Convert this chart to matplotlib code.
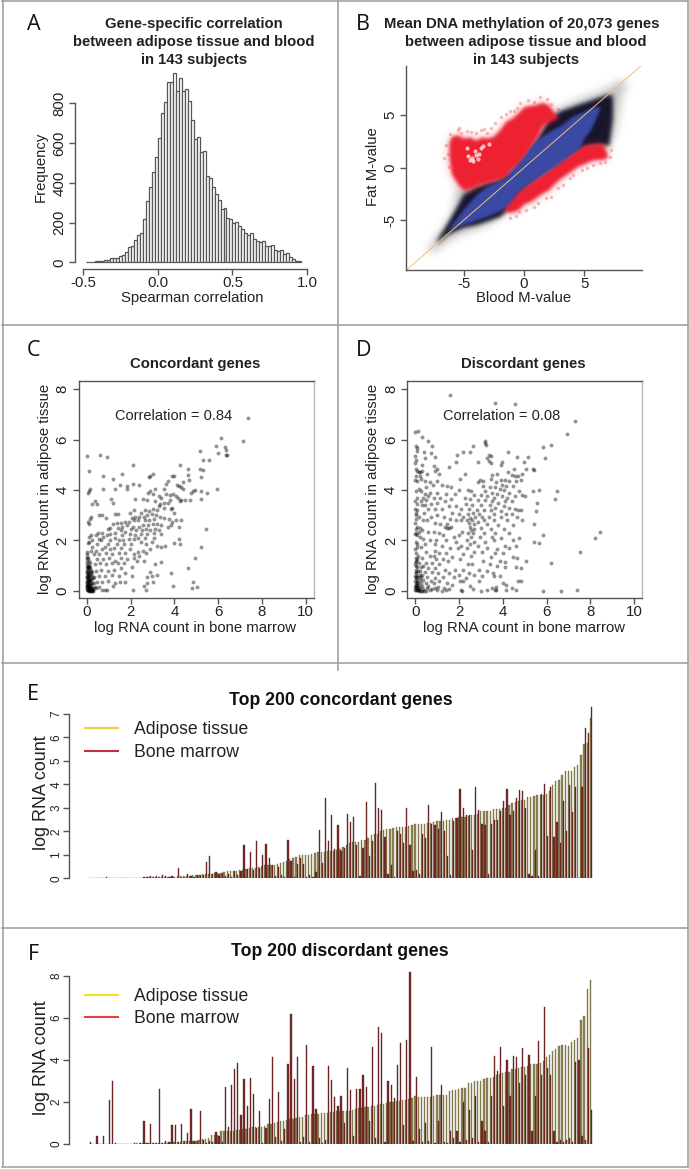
import numpy as np
import matplotlib
matplotlib.use("Agg")
import matplotlib.pyplot as plt
from matplotlib.colors import to_rgb
from matplotlib.lines import Line2D

plt.rcParams['font.family'] = ['Liberation Sans', 'DejaVu Sans']
plt.rcParams['axes.unicode_minus'] = False

W, H = 689, 1169

# panel A: histogram of gene-wise correlations, bins of 0.02 from -0.48
hist_start = -0.48
hist_width = 0.02
hist_counts = [2, 3, 4, 6, 6, 8, 10, 10, 20, 20, 20, 32, 36, 50, 75, 80, 110, 140, 150, 220,
               310, 380, 455, 530, 625, 750, 805, 905, 905, 950, 860, 925, 860, 870, 810, 715,
               620, 630, 555, 560, 435, 425, 380, 345, 315, 270, 275, 225, 220, 200, 205, 185,
               170, 150, 140, 150, 115, 105, 100, 105, 80, 80, 85, 60, 55, 62, 40, 45, 28, 18, 8, 5]

# panel B: outlines of the dense clouds
halo_x = [-8, -7.5, -7, -6, -5.5, -5, -4, -3, -2, -1, 0, 1, 2, 3, 4, 5, 6, 7, 7.5, 8, 8.5]
halo_lo = [-8.1, -7.9, -7.5, -6.6, -6.4, -6.1, -5.8, -5.3, -4.6, -3, -2, -1, 0, 0.8, 1.2, 1.5, 1.6, 2, 3.5, 7, 8]
halo_hi = [-7.8, -6.9, -6.2, -4.6, -1.9, -1.6, -1.2, -1.2, -1, 0, 1, 2.5, 4.8, 5.7, 6.2, 6.7, 7.1, 7.6, 8, 8.3, 8.3]
core_x = [-7.2, -7, -6.5, -6, -5.5, -5, -4, -3, -2, -1, 0, 1, 2, 3, 4, 5, 6, 7, 7.3]
core_lo = [-7.1, -6.9, -6.4, -6.1, -5.85, -5.6, -5.4, -5, -4.6, -3.5, -2, -1, 0, 0.8, 1.4, 2, 2.2, 2.2, 4.8]
core_hi = [-7.0, -6.5, -5.6, -4.6, -3.6, -2.5, -1.8, -1.4, -1.1, -0.3, 1, 2.6, 4.6, 5.4, 5.8, 6.2, 6.6, 7.0, 6.8]
red_up_x = [-6.2, -6, -5.5, -5, -4.5, -4, -3.5, -3, -2.5, -2, -1.5, -1, -0.5, 0, 0.5, 1, 1.5, 2, 2.5, 2.8]
red_up_hi = [2.4, 3, 3.1, 2.8, 2.9, 2.6, 2.9, 2.8, 3.0, 3.6, 4.4, 4.7, 5.2, 5.8, 5.9, 6, 6.2, 6, 5.2, 4.7]
red_up_lo = [1, -0.6, -1.5, -2.1, -2, -1.7, -1.5, -1.4, -1.2, -1.1, -0.8, -0.1, 0.3, 1, 1.9, 2.8, 4, 4.4, 4.6, 4.7]
red_dn_x = [-1.7, -1.4, -1, -0.5, 0, 0.5, 1, 1.5, 2, 2.5, 3, 3.5, 4, 4.5, 5, 5.5, 6, 6.5, 6.9]
red_dn_hi = [-3.4, -3.2, -2.9, -2.2, -1.8, -1.4, -1, -0.6, -0.2, 0.3, 0.7, 1.1, 1.4, 1.8, 2.1, 2.2, 2.3, 2.3, 1.2]
red_dn_lo = [-3.7, -4.2, -4.2, -4, -3.4, -3.2, -2.8, -2.4, -2.1, -1.5, -1, -0.6, -0.2, 0.2, 0.4, 0.7, 0.8, 0.8, 1]
blue_x = [-6.3, -6, -5, -4, -3, -2, -1.4, -1, -0.5, 0, 0.5, 1, 2, 3, 4, 4.6, 5, 5.5, 6, 6.3]
blue_hi = [-5.9, -5.4, -3.9, -2.6, -1.7, -1.2, -0.85, -0.2, 0.4, 1.1, 1.9, 2.6, 3.4, 4, 4.9, 5.2, 5.4, 5.7, 5.8, 5.8]
blue_lo = [-6, -5.8, -5.4, -5, -4.6, -4.1, -3.6, -3, -2.3, -1.8, -1.4, -1, -0.3, 0.5, 1.4, 1.9, 2.9, 3.6, 4.8, 5.7]
# loose red points along the edge of the clouds, and the gap inside the upper one
red_loose = [(-6.5, 2.2), (-6.3, 1.3), (-6.6, 0.9), (-6.2, 0.1), (-6.1, 3.2), (-5.5, 3.6), (-5.2, 3.3), (-4.7, 3.5),
             (-4.4, 3.4), (-4, 3.3), (-3.6, 3.6), (-3.1, 3.3), (-2.7, 3.8), (-2.4, 4.3), (-1.9, 4.8), (-1.5, 5.1),
             (-1.2, 5.4), (-0.6, 5.7), (-0.3, 6.2), (0.3, 6.4), (0.8, 6.3), (1.3, 6.7), (1.9, 6.5), (2.2, 6.1),
             (2.8, 5.6), (-1.7, -4.2), (-1.2, -4.8), (-0.7, -4.6), (-0.4, -4.2), (0.2, -4), (0.8, -3.7), (1.2, -3.4),
             (1.8, -2.9), (2.2, -2.8), (2.8, -1.9), (3.2, -1.6), (3.8, -1), (4.1, -0.7), (4.8, -0.2), (5.2, 0),
             (5.7, 0.3), (6.3, 0.4), (6.7, 0.5), (7.1, 1), (7.2, 1.7), (-0.8, 5.4), (-3.3, 3.7), (-5.4, 3.8)]
gap_points = [(-4.6, 1.1), (-4.3, 0.9), (-4, 1.2), (-4.2, 0.6), (-3.8, 0.8), (-4.5, 0.7), (-3.7, 1.3), (-4.1, 1.6),
              (-3.4, 2.1), (-2.9, 2.3), (-3.6, 1.9), (-4.7, 1.9)]

# panels C and D: (bone marrow, adipose) log counts
conc_points = [
    (7.35, 6.85), (7.15, 5.95), (6.15, 6.05), (5.9, 5.75), (6.3, 5.7), (6.35, 5.6), (6, 5.45), (6.35, 5.4), (6.4, 5.4),
    (5.15, 5.55), (5.3, 5.2), (5.6, 5.2), (5.15, 4.85), (5.3, 4.8), (4.25, 5), (4.6, 4.85), (2.1, 5), (0, 5.35),
    (0.6, 5.4), (0.9, 5.3), (0.1, 4.75), (0.75, 4.55), (1.2, 4.45), (1.6, 4.65), (3, 4.65), (2.9, 4.55), (2.85, 4.5),
    (2.1, 4.25), (2.4, 4.2), (1.5, 4.2), (1.85, 4.15), (1.85, 4.05), (1.3, 4.05), (0.75, 4.05), (0.15, 4.05), (0.05, 3.9),
    (0.1, 3.95), (3.9, 4.55), (4, 4.55), (3.7, 4.35), (3.6, 4.25), (4.1, 4.2), (4.2, 4.15), (4.3, 4.1), (4.4, 4.3),
    (4.65, 4.4), (4.6, 4.6), (5.2, 4.5), (4.4, 4.05), (4.75, 3.9), (4.85, 3.95), (4.95, 4), (5.2, 3.95), (5.5, 3.9),
    (5.95, 4.05), (3.5, 4.05), (3.1, 4.05), (2.9, 3.95), (2.8, 3.9), (3, 3.85), (3.3, 3.75), (3.4, 3.7), (3.6, 3.85),
    (3.8, 3.8), (3.95, 3.85), (4.05, 3.75), (4.15, 3.7), (4.3, 3.6), (4.5, 3.6), (4.7, 3.6), (5.2, 3.65), (4.25, 3.55),
    (3.8, 3.6), (3.7, 3.5), (3.5, 3.5), (3.35, 3.45), (3.1, 3.55), (2.75, 3.6), (2.55, 3.65), (2.2, 3.65), (1.1, 3.65),
    (1.2, 3.5), (0.35, 3.55), (0.45, 3.45), (0.25, 3.45), (3.3, 3.35), (3.5, 3.3), (3.9, 3.3), (4, 3.1), (3.85, 3.25),
    (3.2, 3.2), (3, 3.25), (2.85, 3.15), (2.65, 3.2), (2.45, 3.1), (2.15, 3.2), (1.95, 3.1), (1.3, 3.05), (1.4, 3.05),
    (0.05, 2.75), (0.1, 2.65), (0.55, 3), (0.7, 3), (0.2, 2.95), (0.15, 2.85), (0.85, 2.9), (2.95, 3.05), (2.75, 3),
    (2.6, 2.95), (2.4, 2.95), (2.2, 2.95), (2.05, 2.9), (3.15, 3), (3.35, 2.95), (3.5, 2.9), (3.75, 2.85), (3.9, 2.75),
    (4.05, 2.8), (4.3, 2.8), (3.05, 2.85), (2.85, 2.8), (2.65, 2.8), (2.35, 2.8), (2.15, 2.8), (1.9, 2.75), (1.75, 2.75),
    (1.55, 2.7), (1.35, 2.7), (1.2, 2.65), (3.85, 2.6), (3.7, 2.55), (3.4, 2.6), (3.2, 2.65), (3, 2.65), (2.8, 2.6),
    (2.55, 2.6), (2.4, 2.55), (2.1, 2.55), (1.85, 2.6), (1.6, 2.55), (1.4, 2.5), (1.05, 2.5), (0.95, 2.45), (4.2, 2.55),
    (5.45, 2.45), (3.3, 2.4), (3.1, 2.45), (2.9, 2.4), (2.7, 2.45), (2.5, 2.4), (2.25, 2.4), (2, 2.45), (1.75, 2.35),
    (1.55, 2.4), (1.3, 2.3), (1.05, 2.25), (0.7, 2.3), (0.5, 2.3), (0.4, 2.2), (0.2, 2.2), (0.1, 2.15), (3.4, 2.25),
    (3.05, 2.3), (2.75, 2.25), (2.45, 2.25), (2.2, 2.2), (1.95, 2.25), (1.6, 2.2), (1.3, 2.1), (0.9, 2.2), (0.75, 2.15),
    (0.55, 2.05), (3.05, 2.1), (2.65, 2.1), (2.35, 2.1), (2.15, 2.05), (1.9, 2.05), (1.65, 2), (1.45, 2), (1.05, 2),
    (0.65, 2), (0.25, 2), (0.1, 1.95), (0.05, 1.9), (4.2, 2.05), (4, 1.9), (4.25, 1.85), (3.55, 1.8), (3.2, 1.8), (2.95, 1.95),
    (2.7, 1.85), (2.45, 1.95), (2, 1.85), (1.7, 1.85), (1.35, 1.85), (0.95, 1.85), (0.8, 1.75), (0.45, 1.85), (0.25, 1.75),
    (5.2, 1.75), (3.4, 1.75), (2.9, 1.65), (2.55, 1.6), (2.35, 1.55), (1.95, 1.65), (1.55, 1.7), (1.25, 1.7), (1.05, 1.65),
    (0.7, 1.65), (0.4, 1.6), (0.2, 1.6), (2.7, 1.5), (2.4, 1.4), (2.15, 1.45), (1.75, 1.5), (1.45, 1.5), (1.15, 1.45),
    (0.85, 1.5), (0.55, 1.45), (0.3, 1.45), (4.95, 1.3), (2.15, 1.3), (1.85, 1.25), (1.55, 1.3), (1.3, 1.2), (1, 1.3),
    (0.75, 1.25), (0.45, 1.25), (3.4, 1.15), (3.1, 1.05), (2.6, 1.2), (2.3, 1.2), (1.7, 1.1), (1.4, 1.1), (1.15, 1.1),
    (0.85, 1.05), (0.6, 1.1), (0.35, 1.05), (4.6, 0.9), (3.85, 0.7), (3.2, 0.65), (2.95, 0.6), (2.75, 0.55), (2.9, 0.75),
    (2.05, 0.95), (1.55, 0.9), (1.25, 0.85), (0.95, 0.8), (0.65, 0.85), (0.4, 0.8), (2.05, 0.6), (1.75, 0.7), (1.45, 0.6),
    (1.15, 0.65), (0.8, 0.6), (0.55, 0.6), (0.3, 0.55), (4.85, 0.35), (3.95, 0.2), (3, 0.35), (2.75, 0.3), (2.6, 0.2),
    (1.75, 0.35), (1.5, 0.35), (1.3, 0.3), (1.2, 0.2), (0.95, 0.4), (0.7, 0.35), (0.45, 0.35), (0.3, 0.3), (4.8, 0.1),
    (5.05, 0.15), (2.7, 0.05), (2.1, 0.02), (0.9, 0.02), (0.8, 0.05), (0.7, 0.02), (0.55, 0.15), (0.4, 0.1), (0.35, 0.15),
    # tight pile next to the axis
    (0, 1.55), (0.02, 1.45), (0, 1.35), (0.05, 1.3), (0, 1.25), (0.08, 1.2), (0.02, 1.15), (0.12, 1.1), (0, 1.05), (0.05, 1),
    (0.1, 1), (0, 0.95), (0.15, 0.95), (0.03, 0.9), (0.08, 0.9), (0.2, 0.85), (0, 0.85), (0.12, 0.8), (0.05, 0.8), (0.25, 0.75),
    (0, 0.75), (0.1, 0.72), (0.18, 0.7), (0.03, 0.68), (0.08, 0.65), (0.14, 0.62), (0.22, 0.6), (0, 0.6), (0.05, 0.58), (0.1, 0.55),
    (0.17, 0.52), (0.26, 0.5), (0, 0.5), (0.04, 0.48), (0.08, 0.45), (0.13, 0.42), (0.2, 0.42), (0, 0.4), (0.06, 0.38), (0.1, 0.35),
    (0.16, 0.33), (0.24, 0.3), (0, 0.3), (0.04, 0.28), (0.09, 0.26), (0.13, 0.24), (0.19, 0.22), (0, 0.2), (0.06, 0.18), (0.11, 0.17),
    (0.15, 0.15), (0.22, 0.13), (0.28, 0.12), (0, 0.12), (0.04, 0.1), (0.08, 0.08), (0.12, 0.07), (0.17, 0.05), (0.21, 0.05), (0.26, 0.04),
    (0, 0.04), (0.03, 0.02), (0.07, 0.02), (0.1, 0), (0.14, 0), (0.18, 0), (0.22, 0), (0.27, 0), (0.03, 0.95), (0.02, 0.7),
    (0.02, 0.55), (0.02, 0.35), (0.02, 0.22), (0.02, 0.15), (0.05, 0.05), (0.15, 0.02), (0.05, 0.25), (0.1, 0.12), (0.16, 0.1), (0.1, 0.45),
]

disc_points = [
    (1.6, 7.75), (3.65, 7.45), (4.55, 7.4), (7.3, 6.75), (6.95, 6.2), (0, 6.3), (0.12, 6.35), (0.3, 6.1), (0.6, 5.95),
    (0.75, 5.75), (3.2, 5.95), (3.2, 5.85), (3.25, 5.8), (2.65, 5.75), (5.85, 5.7), (6.2, 5.8), (0.02, 5.75), (0.08, 5.65),
    (0.1, 5.55), (0.4, 5.5), (0.7, 5.45), (2.2, 5.5), (2.5, 5.5), (1.9, 5.4), (3.35, 5.4), (3.45, 5.35), (4.25, 5.5),
    (4.65, 5.3), (5.15, 5.3), (5.95, 5.25), (0, 5.35), (0.05, 5.2), (0.45, 5.25), (0.9, 5.3), (3.3, 5.25), (3.35, 5.15),
    (3.95, 5.1), (1.85, 5.1), (2.85, 5.1), (4.95, 5.1), (0, 5.05), (0.3, 5), (0.85, 4.95), (1, 4.85), (1.55, 4.9),
    (3.45, 5.05), (3.9, 5), (4.5, 4.85), (5.05, 4.85), (5.4, 4.85), (5.45, 4.8), (0.02, 4.85), (0.1, 4.75), (0.15, 4.7), (0.22, 4.7),
    (0.3, 4.75), (0.05, 4.55), (0.2, 4.55), (0.9, 4.75), (1.1, 4.65), (2.25, 4.65), (0.55, 4.65), (4.25, 4.7), (3.75, 4.65), (3.5, 4.6),
    (4.4, 4.6), (4.55, 4.55), (4.7, 4.55), (4.9, 4.65), (1, 4.35), (0, 4.4), (0.1, 4.35), (0.25, 4.45), (0.45, 4.35), (0.65, 4.3),
    (2.05, 4.45), (2.95, 4.4), (3.1, 4.35), (3.45, 4.45), (3.9, 4.4), (4.1, 4.4), (4.3, 4.35), (4.6, 4.35), (4.85, 4.4), (2.85, 4.3),
    (3.7, 4.3), (3.95, 4.2), (4.15, 4.15), (4.45, 4.15), (0.8, 4.2), (1.2, 4.2), (1.45, 4.15), (1.65, 4.1), (0.5, 4.1), (0.15, 4.05),
    (3.1, 4.15), (3.4, 4.1), (3.65, 4.1), (3.85, 4.05), (4.05, 4), (2.4, 4), (2.55, 3.95), (2, 4), (0.05, 3.95), (0.25, 3.95),
    (0.45, 3.85), (0.65, 3.9), (1, 3.9), (1.4, 3.85), (1.8, 3.85), (3.2, 3.95), (3.5, 3.9), (3.75, 3.85), (4.3, 3.9), (4.75, 3.95),
    (5.4, 3.95), (5.65, 4), (6.5, 3.95), (6.4, 3.65), (2.7, 3.8), (3, 3.8), (3.3, 3.75), (3.6, 3.7), (3.95, 3.75), (4.2, 3.7),
    (4.55, 3.75), (4.9, 3.8), (5, 3.75), (0.1, 3.7), (0.35, 3.7), (0.6, 3.75), (0.85, 3.7), (1.15, 3.7), (1.65, 3.65), (2.25, 3.7),
    (2.5, 3.65), (0, 3.55), (0.25, 3.55), (0.5, 3.6), (1, 3.5), (1.35, 3.55), (2.85, 3.6), (3.2, 3.6), (3.5, 3.55), (3.8, 3.5),
    (4.1, 3.55), (4.4, 3.55), (5.55, 3.5), (0.1, 3.45), (0.3, 3.4), (0.45, 3.4), (0.7, 3.45), (1.55, 3.35), (1.85, 3.35), (2.3, 3.45),
    (2.6, 3.4), (3, 3.4), (3.4, 3.4), (3.65, 3.3), (4.05, 3.35), (4.3, 3.3), (4.55, 3.25), (0, 3.25), (0.05, 3.1), (0.02, 3),
    (0.08, 3.2), (0.6, 3.25), (0.9, 3.25), (1.2, 3.25), (2.1, 3.25), (2.45, 3.25), (2.8, 3.2), (3.15, 3.2), (3.45, 3.2), (3.9, 3.15),
    (4.7, 3.2), (4.85, 3.2), (5.5, 3.15), (0.4, 3.1), (1.7, 3.1), (2, 3.05), (2.4, 3.05), (2.65, 3.1), (2.9, 3.05), (3.6, 3.05),
    (4.15, 3.05), (4.4, 3.05), (0.15, 2.95), (0.7, 2.95), (1, 3), (1.3, 2.95), (2.2, 2.95), (2.5, 2.9), (2.75, 2.95), (3.05, 2.95),
    (3.35, 2.95), (3.9, 2.95), (4.65, 2.95), (0.05, 2.85), (0.35, 2.8), (0.55, 2.8), (1.6, 2.85), (1.85, 2.8), (2.1, 2.8), (2.35, 2.8),
    (2.6, 2.8), (2.85, 2.75), (3.15, 2.8), (3.6, 2.8), (4.2, 2.8), (4.9, 2.8), (0, 2.7), (0.9, 2.7), (1.15, 2.65), (1.45, 2.65),
    (2.45, 2.7), (2.7, 2.65), (3.3, 2.65), (3.8, 2.6), (4.45, 2.6), (5.45, 2.65), (0.1, 2.55), (0.2, 2.5), (0.05, 2.45), (1.35, 2.55),
    (1.45, 2.5), (1.55, 2.5), (1.65, 2.55), (2.5, 2.55), (2.55, 2.4), (2.7, 2.45), (3, 2.5), (3.45, 2.45), (4.05, 2.45), (0.3, 2.4),
    (0.6, 2.35), (0.85, 2.35), (1.1, 2.3), (2.15, 2.35), (2.4, 2.3), (2.65, 2.3), (3.15, 2.3), (3.65, 2.3), (4.3, 2.3), (0, 2.25),
    (0.1, 2.2), (0.2, 2.15), (5.85, 2.2), (8.45, 2.35), (8.2, 2.1), (1.25, 2.2), (1.75, 2.15), (2, 2.2), (2.55, 2.15), (2.95, 2.15),
    (3.5, 2.15), (3.9, 2.1), (4.75, 2.1), (0.35, 2.05), (0.65, 2), (0.95, 2), (1.4, 2), (1.85, 1.95), (2.35, 2), (2.7, 1.95),
    (3.2, 1.95), (3.6, 2), (4.45, 2), (5.45, 1.95), (5.65, 1.9), (0.02, 1.95), (0.1, 1.85), (0.45, 1.85), (0.9, 1.85), (1.2, 1.8),
    (2.1, 1.8), (2.5, 1.85), (2.85, 1.8), (4.1, 1.8), (4.6, 1.8), (0.25, 1.75), (1.6, 1.7), (1.95, 1.7), (2.35, 1.7), (3.3, 1.7),
    (3.75, 1.65), (4.3, 1.7), (7.55, 1.55), (0, 1.65), (0.05, 1.5), (0.5, 1.55), (0.9, 1.6), (1.1, 1.5), (1.4, 1.5), (2.7, 1.55),
    (3.05, 1.55), (3.65, 1.5), (4, 1.5), (0.65, 1.4), (0.85, 1.4), (1.7, 1.35), (2.2, 1.45), (2.55, 1.4), (3.45, 1.35), (4.45, 1.35),
    (4.65, 1.3), (0.3, 1.3), (0.95, 1.25), (1.25, 1.25), (1.5, 1.2), (2.05, 1.25), (3.1, 1.2), (3.85, 1.2), (4.1, 1.15), (5.05, 1.2),
    (0.05, 1.15), (0.15, 1.1), (6.2, 1.1), (0.5, 1.1), (0.75, 1.1), (1.1, 1.05), (2.4, 1.05), (2.6, 1.05), (3.4, 1.05), (3.75, 1),
    (4.1, 0.95), (4.6, 0.95), (4.85, 0.9), (0, 1.05), (0.1, 0.95), (0.25, 0.95), (0.35, 1), (0.6, 0.9), (0.9, 0.9), (1.35, 0.85),
    (1.8, 0.85), (2.2, 0.85), (2.9, 0.85), (3.3, 0.8), (3.55, 0.7), (0.02, 0.85), (0.12, 0.8), (0.2, 0.8), (0.45, 0.75), (0.75, 0.75),
    (1.05, 0.7), (1.55, 0.7), (2, 0.65), (2.45, 0.7), (2.7, 0.65), (3.05, 0.6), (3.6, 0.6), (3.85, 0.6), (0.05, 0.7), (0.3, 0.65),
    (0, 0.6), (0.08, 0.6), (0.15, 0.55), (0.25, 0.55), (0.55, 0.55), (0.9, 0.5), (1.25, 0.55), (1.75, 0.55), (2.3, 0.5), (0.02, 0.5),
    (0.1, 0.45), (0.2, 0.45), (0.35, 0.45), (0.7, 0.4), (1.1, 0.4), (2.05, 0.4), (2.2, 0.4), (2.9, 0.4), (4.7, 0.4), (4.85, 0.4),
    (0, 0.4), (0.06, 0.35), (0.13, 0.33), (0.25, 0.3), (0.5, 0.3), (0.85, 0.3), (1.45, 0.3), (1.7, 0.25), (4, 0.3), (4.15, 0.25),
    (0.02, 0.25), (0.1, 0.22), (0.18, 0.2), (0.3, 0.2), (0.6, 0.2), (1.05, 0.15), (1.3, 0.1), (2.5, 0.2), (3.7, 0.15), (3.5, 0.1),
    (0, 0.15), (0.05, 0.12), (0.12, 0.1), (0.22, 0.1), (0.35, 0.08), (0.55, 0.1), (0.75, 0.08), (0.9, 0.1), (1, 0.05), (1.55, 0.08),
    (2.1, 0.05), (2.15, 0), (3.7, 0.05), (3.65, 0.03), (4.4, 0.1), (4.6, 0.05), (4.15, 0.05), (3, 0), (2.65, 0.08), (3.3, 0.05),
    (5.85, 0), (6.65, 0), (7.4, 0.05), (0, 0.05), (0.04, 0.03), (0.08, 0.02), (0.13, 0.02), (0.18, 0), (0.24, 0), (0.3, 0),
    (0.4, 0), (0.5, 0), (1.2, 0), (1.4, 0.02), (0.65, 0.02), (0.03, 0.3), (0.02, 1.3), (0.03, 1.2), (0.05, 1), (0.02, 0.75),
    (0.04, 0.55), (0.02, 0.2), (0.1, 0.15), (0.15, 0.05), (0.2, 0.65), (0.08, 1.25), (0.12, 1.4), (0.07, 1.75), (0.15, 2.35), (0.05, 2.3),
]

# panels E and F: genes sorted by adipose count, bone marrow beside it
conc_adipose = [
    .01, .01, .01, .01, .01, .01, .01, .01, .01, .01, .01, .01, .01, .01, .01, .02, .02, .03, .03, .04,
    .04, .05, .05, .05, .06, .06, .07, .07, .08, .08, .09, .10, .11, .13, .15, .16, .18, .19, .20, .20,
    .21, .22, .24, .28, .30, .30, .31, .33, .35, .36, .40, .42, .42, .44, .50, .53, .55, .57, .57, .58,
    .62, .65, .68, .72, .82, .85, .90, .97, .98, .99, 1.0, 1.03, 1.08, 1.12, 1.13, 1.14, 1.15, 1.17, 1.17, 1.2,
    1.25, 1.35, 1.4, 1.5, 1.55, 1.55, 1.55, 1.65, 1.65, 1.7, 1.85, 1.9, 1.9, 2.0, 2.05, 2.1, 2.1, 2.15, 2.18, 2.2,
    2.2, 2.2, 2.22, 2.25, 2.3, 2.3, 2.32, 2.32, 2.35, 2.35, 2.4, 2.45, 2.45, 2.45, 2.5, 2.5, 2.55, 2.55, 2.6, 2.6,
    2.6, 2.65, 2.68, 2.7, 2.72, 2.85, 2.85, 2.85, 2.88, 2.95, 2.95, 2.95, 2.98, 3.0, 3.1, 3.2, 3.25, 3.3, 3.32, 3.35,
    3.45, 3.45, 3.5, 3.55, 3.55, 3.55, 3.6, 3.7, 3.97, 4.13, 4.2, 4.4, 4.55, 4.55, 4.55, 4.75, 4.8, 5.25, 5.7, 5.75, 6.8]
conc_marrow = [
    0, 0, .02, 0, 0, .04, 0, 0, 0, 0, 0, 0, 0, 0, .03, 0, 0, .05, .06, .08,
    .05, .10, .06, .12, .08, .05, .08, 0, .45, .05, .06, .2, .1, .05, .13, .14, .15, .7, .95, .18,
    .25, .18, .22, .1, .2, .05, .3, .15, .3, 1.4, .38, 1.1, .35, 1.6, .43, 1.0, 1.45, .85, .55, .1,
    .5, .15, .05, 1.65, .75, .05, .62, .85, .62, .05, .15, .05, .28, 2.05, .65, 3.4, 1.6, 2.7, 1.25, 2.25,
    1.15, 1.3, 2.75, 2.4, 2.6, 1.4, .1, 1.3, 3.25, .95, 1.6, 4.05, 3.0, 2.9, 1.75, .2, .55, .05, 2.0, 1.9,
    1.5, 3.0, 1.4, .3, .35, .2, 1.9, 1.7, 3.1, 2.3, 2.25, 2.1, 2.8, 2.0, .95, .15, 2.45, 2.55, 3.8, 3.0,
    2.7, 2.7, 1.2, 3.9, 2.9, 2.3, 2.25, .2, 2.3, 2.5, 2.5, 2.85, 3.3, 3.8, 2.7, 2.85, 3.4, 3.75, 3.7, 3.0,
    .2, .1, 1.2, .1, 3.6, 4.0, 1.8, 3.9, 1.75, 2.4, 1.5, 3.3, 2.0, 3.95, 2.8, 3.9, .02, 3.9, 6.4, 6.2, 7.3]
disc_adipose = [
    0, .02, .02, .02, .02, .02, .02, .02, .02, .02, .02, .02, .02, .02, .02, .03, .03, .03, .03, .03,
    .04, .05, .05, .06, .07, .07, .08, .09, .10, .10, .12, .13, .14, .14, .15, .18, .22, .25, .3, .42,
    .45, .45, .6, .6, .62, .62, .63, .65, .66, .7, .72, .78, .8, .8, .8, .82, .85, .95, .97, 1.0,
    1.05, 1.08, 1.1, 1.12, 1.18, 1.2, 1.25, 1.28, 1.3, 1.38, 1.4, 1.42, 1.42, 1.42, 1.45, 1.47, 1.48, 1.5, 1.52, 1.55,
    1.55, 1.55, 1.56, 1.58, 1.6, 1.65, 1.7, 1.72, 1.74, 1.78, 1.8, 1.82, 1.85, 1.9, 1.92, 1.95, 2.0, 2.02, 2.03, 2.05,
    2.08, 2.1, 2.12, 2.18, 2.28, 2.25, 2.25, 2.25, 2.25, 2.25, 2.3, 2.33, 2.35, 2.35, 2.35, 2.5, 2.55, 2.55, 2.6, 2.65,
    2.68, 2.88, 2.92, 2.98, 3.0, 3.0, 3.1, 3.12, 3.15, 3.2, 3.3, 3.35, 3.38, 3.4, 3.42, 3.55, 3.58, 3.6, 3.65, 3.68,
    3.7, 3.78, 3.8, 3.8, 3.85, 3.95, 4.12, 4.25, 4.4, 4.5, 4.65, 4.7, 4.7, 4.68, 4.85, 4.95, 5.05, 5.9, 6.1, 7.35, 7.8]
disc_marrow = [
    .1, 0, .4, 0, .37, 0, 2.1, 3.0, .05, 0, 0, 0, 0, 0, .03, .02, .05, 1.1, .03, .97,
    .05, .03, 2.63, .05, .13, .08, .9, .9, .1, .93, .12, .5, 1.65, .13, .15, 1.57, .2, .05, .15, .1,
    .55, .4, .1, 2.72, .8, 2.8, 3.57, 3.83, 1.37, 3.1, 1.8, 3.13, 2.37, .75, 1.55, .05, .75, 2.15, 4.15, .35,
    2.45, .15, .7, 3.8, 6.17, 3.07, 4.15, .1, .35, 4.7, .1, 3.73, 1.65, .3, .05, .2, 3.7, 3.05, 2.25, 1.8,
    2.3, 1.0, 3.6, 2.55, .4, 2.6, 2.6, 3.28, 2.7, 1.1, 4.6, .3, 5.55, 5.3, .1, 3.0, 2.8, 2.2, 3.77, 4.8,
    .9, 4.95, 8.2, .15, 3.2, .7, .1, 1.0, .15, 4.63, .05, 1.1, 2.8, .1, .05, .6, .3, .6, .1, 2.0,
    .2, 1.6, .3, 2.3, .1, 1.1, .6, .1, 2.3, 4.2, 3.45, 4.6, 1.8, 3.97, 2.3, 4.17, 4.15, 2.9, 4.55, 3.3,
    4.25, .6, 2.3, 4.9, 3.3, 6.5, 3.6, 3.3, .6, .1, .2, .1, .2, .3, .1, 3.9, 4.0, .4, .2, 4.55, 1.6]

AXIS = '#555555'
TEXT = '#222222'

fig = plt.figure(figsize=(W / 100, H / 100), dpi=100)

# page layer in pixel coordinates, used for the frame and all placed text
pg = fig.add_axes([0, 0, 1, 1], zorder=5)
pg.set_xlim(0, W)
pg.set_ylim(H, 0)
pg.axis('off')
pg.patch.set_alpha(0)


def box(left, top, right, bottom):
    return fig.add_axes([left / W, 1 - bottom / H, (right - left) / W, (bottom - top) / H])


def soft(sigma, color):
    # agg filter: blur the alpha of a filled shape so its edge fades out
    rgb = to_rgb(color)
    r = int(3 * sigma)
    kernel = np.exp(-0.5 * (np.arange(-r, r + 1) / sigma) ** 2)
    kernel = kernel / kernel.sum()

    def run(img, dpi):
        a = np.pad(img[:, :, 3], r)
        a = np.apply_along_axis(np.convolve, 0, a, kernel, mode='same')
        a = np.apply_along_axis(np.convolve, 1, a, kernel, mode='same')
        out = np.zeros(a.shape + (4,), dtype=img.dtype)
        out[:, :, 0], out[:, :, 1], out[:, :, 2] = rgb
        out[:, :, 3] = a
        return out, -r, -r
    return run


def style_axis(ax, size=10.8, rot=True):
    ax.tick_params(colors=AXIS, labelcolor=TEXT, width=1, length=4.5, labelsize=size)
    ax.tick_params(axis='x', pad=0.5)
    ax.tick_params(axis='y', pad=2)
    if rot:
        for t in ax.get_yticklabels():
            t.set_rotation(90)
            t.set_va('center')
    for s in ax.spines.values():
        s.set_color(AXIS)
        s.set_linewidth(1)


def place_labels(ax, xlabel, xpos, ylabel, ypos, size=10.7):
    if xlabel:
        ax.set_xlabel(xlabel, fontsize=size, color=TEXT, va='center')
        ax.xaxis.set_label_coords(xpos[0], xpos[1], transform=pg.transData)
    ax.set_ylabel(ylabel, fontsize=size, color=TEXT, va='center')
    ax.yaxis.set_label_coords(ypos[0], ypos[1], transform=pg.transData)


# frame around the panels
frame = [((2.5, 2.5), (1, 1166)), ((687.5, 687.5), (1, 1166)), ((2, 688), (1, 1)), ((2, 688), (325, 325)),
         ((2, 688), (663, 663)), ((2, 688), (927.5, 927.5)), ((2, 688), (1167, 1167)), ((338, 338), (1, 670))]
for xs, ys in frame:
    pg.add_line(Line2D(xs, ys, color='#9a9a9a', lw=1.1))

for letter, lx, ly in [('A', 34, 24), ('B', 363, 24), ('C', 34, 351), ('D', 364, 351), ('E', 33, 694), ('F', 33, 954)]:
    pg.text(lx, ly, letter, fontsize=15.5, family=['Open Sans', 'DejaVu Sans'], color='#111111', ha='center', va='center')

# A
ax = box(75.3, 67.5, 310, 269.3)
edges = hist_start + hist_width * np.arange(len(hist_counts))
ax.bar(edges, hist_counts, width=hist_width, align='edge', facecolor='white', edgecolor='#555555', linewidth=0.9)
ax.set_xlim(-0.554, 1.02)
ax.set_ylim(-35, 980)
ax.set_xticks([-0.5, 0, 0.5, 1.0], ['-0.5', '0.0', '0.5', '1.0'])
ax.set_yticks([0, 200, 400, 600, 800])
for s in ['top', 'right']:
    ax.spines[s].set_visible(False)
ax.spines['left'].set_bounds(0, 800)
ax.spines['bottom'].set_bounds(-0.5, 1.0)
style_axis(ax)
place_labels(ax, 'Spearman correlation', (192, 298), 'Frequency', (41, 167))
for txt, yy in zip(['Gene-specific correlation', 'between adipose tissue and blood', 'in 143 subjects'], [24, 42, 60]):
    pg.text(194, yy, txt, fontsize=10.7, fontweight='bold', color=TEXT, ha='center', va='center')

# B
ax = box(406.3, 65.8, 641.7, 269.6)
halo = ax.fill_between(halo_x, halo_lo, halo_hi, color='#000000', alpha=0.28, lw=0)
halo.set_agg_filter(soft(3.5, '#000000'))
core = ax.fill_between(core_x, core_lo, core_hi, color='#15152c', lw=0.5)
core.set_agg_filter(soft(1.5, '#15152c'))
for lo_x, lo, hi in [(red_up_x, red_up_lo, red_up_hi), (red_dn_x, red_dn_lo, red_dn_hi)]:
    fuzz = ax.fill_between(lo_x, lo, hi, color='#ee2030', alpha=0.45, lw=0)
    fuzz.set_agg_filter(soft(3.5, '#ee2030'))
    red = ax.fill_between(lo_x, lo, hi, color='#ee2030', lw=0)
    red.set_agg_filter(soft(1.2, '#ee2030'))
rl = np.array(red_loose)
ax.scatter(rl[:, 0], rl[:, 1], s=6, color='#ee2030', alpha=0.3, lw=0)
gp = np.array(gap_points)
ax.scatter(gp[:, 0], gp[:, 1], s=9, color='white', alpha=0.7, lw=0)
blue = ax.fill_between(blue_x, blue_lo, blue_hi, color='#3a4aa6', lw=0)
blue.set_agg_filter(soft(1, '#3a4aa6'))
ax.plot([-9.75, 9.75], [-9.75, 9.75], color='#f2c078', lw=0.7)
ax.set_xlim(-9.75, 9.75)
ax.set_ylim(-9.7, 9.7)
ax.set_xticks([-5, 0, 5])
ax.set_yticks([-5, 0, 5])
for s in ['top', 'right']:
    ax.spines[s].set_visible(False)
style_axis(ax)
place_labels(ax, 'Blood M-value', (524, 298), 'Fat M-value', (373, 167))
for txt, xx, yy in [('Mean DNA methylation of 20,073 genes', 522, 24), ('between adipose tissue and blood', 525.5, 42),
                    ('in 143 subjects', 526, 60)]:
    pg.text(xx, yy, txt, fontsize=10.7, fontweight='bold', color=TEXT, ha='center', va='center')

# C and D
scatter_panels = [
    (conc_points, (78.7, 380.7, 314, 598.3), 'Concordant genes', 195, 'Correlation = 0.84', 173.7, (195, 628), (45, 489)),
    (disc_points, (407, 380.7, 642.3, 598.3), 'Discordant genes', 523.7, 'Correlation = 0.08', 502, (524, 628), (373, 489)),
]
for pts, rect, title, tx, corr, cx, xlab, ylab in scatter_panels:
    ax = box(*rect)
    p = np.array(pts)
    ax.scatter(p[:, 0], p[:, 1], s=8, color='black', alpha=0.42, lw=0, clip_on=False)
    ax.set_xlim(-0.38, 10.38)
    ax.set_ylim(-0.29, 8.33)
    ax.set_xticks([0, 2, 4, 6, 8, 10])
    ax.set_yticks([0, 2, 4, 6, 8])
    style_axis(ax)
    ax.spines['right'].set_color('#bbbbbb')
    place_labels(ax, 'log RNA count in bone marrow', xlab, 'log RNA count in adipose tissue', ylab)
    pg.text(tx, 364, title, fontsize=10.7, fontweight='bold', color=TEXT, ha='center', va='center')
    pg.text(cx, 415.7, corr, fontsize=10.5, color=TEXT, ha='center', va='center')

# E and F
bar_panels = [
    (conc_adipose, conc_marrow, (69.3, 702, 593, 878.3), 7.5, range(0, 8), 'Top 200 concordant genes', 341, 700.7,
     792.5, '#e8d040', '#c03040', (85, 721.5)),
    (disc_adipose, disc_marrow, (69.3, 967.3, 593, 1144), 8.4, range(0, 9, 2), 'Top 200 discordant genes', 340, 951,
     1058, '#f5e020', '#e84040', (85, 988)),
]
for adipose, marrow, rect, ymax, ticks, title, tx, ty, ylab_y, c_ad, c_ma, leg_xy in bar_panels:
    ax = box(*rect)
    pos = 3 * np.arange(len(adipose))
    ax.bar(pos + 0.4, adipose, width=1.2, color='#8f8456', edgecolor='#6e6436', linewidth=0.25)
    ax.bar(pos + 1.55, marrow, width=1.2, color='#7c2a28', edgecolor='#4a1c1a', linewidth=0.25)
    ax.set_xlim(-19, 483)
    ax.set_ylim(0, ymax)
    ax.set_xticks([])
    ax.set_yticks(list(ticks))
    for s in ['top', 'right', 'bottom']:
        ax.spines[s].set_visible(False)
    ax.spines['left'].set_bounds(min(ticks), max(ticks))
    style_axis(ax, size=8.5)
    ax.tick_params(axis='y', length=4, pad=1)
    ax.set_ylabel('log RNA count', fontsize=12.9, color=TEXT, va='center')
    ax.yaxis.set_label_coords(42, ylab_y, transform=pg.transData)
    pg.text(tx, ty, title, fontsize=12.7, fontweight='bold', color='#111111', ha='center', va='center')
    handles = [Line2D([], [], color=c_ad, lw=1.5, label='Adipose tissue'),
               Line2D([], [], color=c_ma, lw=1.5, label='Bone marrow')]
    ax.legend(handles=handles, frameon=False, fontsize=12.7, loc='upper left', bbox_to_anchor=leg_xy,
              bbox_transform=pg.transData, handlelength=1.87, handletextpad=0.88, labelspacing=0.3,
              labelcolor=TEXT, borderpad=0, borderaxespad=0)

fig.savefig('out.png', dpi=100, facecolor='white')
